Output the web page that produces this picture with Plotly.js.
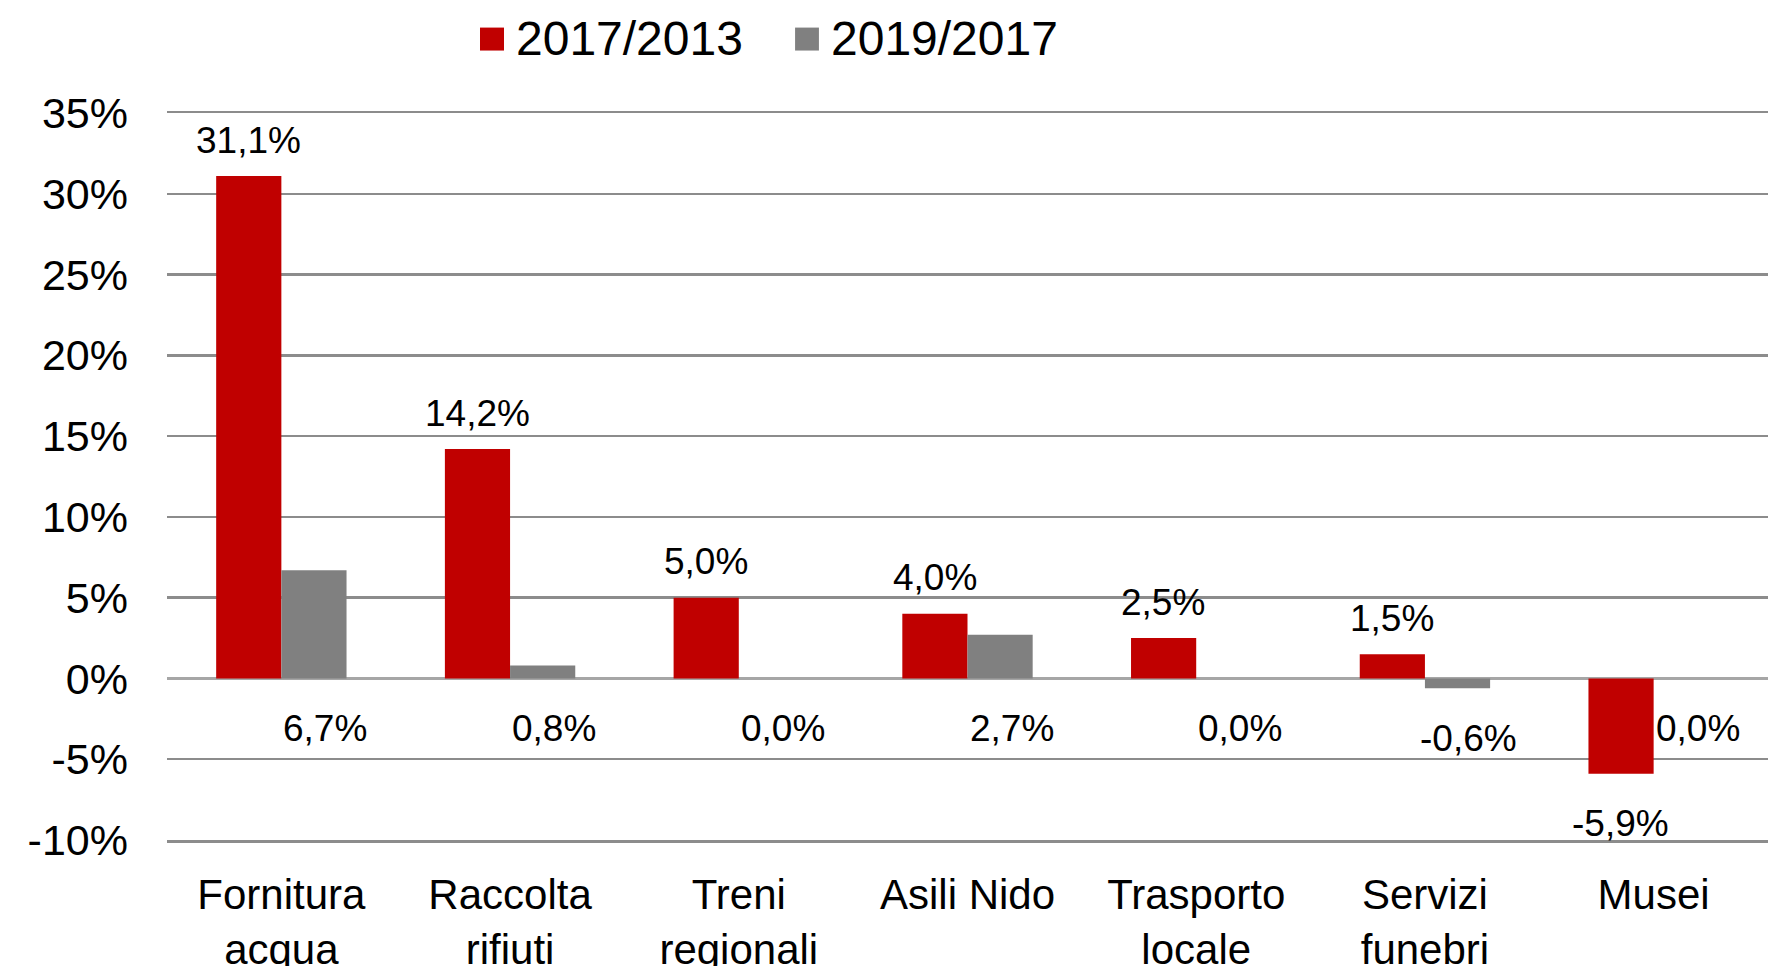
<!DOCTYPE html>
<html>
<head>
<meta charset="utf-8">
<script src="https://cdn.plot.ly/plotly-3.0.1.min.js"></script>
<style>html,body{margin:0;padding:0;background:#fff;}#chart{width:1774px;height:966px;}</style>
</head>
<body>
<div id="chart"></div>
<script>
const categories = ['Fornitura<br>acqua', 'Raccolta<br>rifiuti', 'Treni<br>regionali', 'Asili Nido', 'Trasporto<br>locale', 'Servizi<br>funebri', 'Musei'];
const series1Name = '2017/2013';
const series2Name = '2019/2017';
const series1 = [31.1, 14.2, 5.0, 4.0, 2.5, 1.5, -5.9];
const series2 = [6.7, 0.8, 0.0, 2.7, 0.0, -0.6, 0.0];
const yTickVals = [-10, -5, 0, 5, 10, 15, 20, 25, 30, 35];
const yTickText = ['-10%', '-5%', '0%', '5%', '10%', '15%', '20%', '25%', '30%', '35%'];

const RED = '#C00000';
const GRAY = '#808080';
const FONT = 'Liberation Sans, Arial, sans-serif';

function fmt(v) { return v.toFixed(1).replace('.', ',') + '%'; }

const traces = [
  { type: 'bar', name: series1Name, x: categories, y: series1, marker: { color: RED }, hoverinfo: 'skip' },
  { type: 'bar', name: series2Name, x: categories, y: series2, marker: { color: GRAY }, hoverinfo: 'skip' }
];

const annotations = [];
categories.forEach((c, i) => {
  const v1 = series1[i];
  annotations.push({
    x: c, xref: 'x', y: v1, yref: 'y',
    text: fmt(v1), showarrow: false,
    xanchor: 'center', yanchor: 'middle',
    xshift: -33, yshift: v1 >= 0 ? 36 : -50,
    font: { family: FONT, size: 37, color: '#000' }
  });
  const v2 = series2[i];
  annotations.push({
    x: c, xref: 'x', y: Math.min(v2, 0), yref: 'y',
    text: fmt(v2), showarrow: false,
    xanchor: 'center', yanchor: 'middle',
    xshift: 44, yshift: -50,
    font: { family: FONT, size: 37, color: '#000' }
  });
});

// custom legend
annotations.push({ x: 0.217, xref: 'paper', y: 1.1024, yref: 'paper', text: series1Name, showarrow: false, xanchor: 'left', yanchor: 'middle', font: { family: FONT, size: 48, color: '#000' } });
annotations.push({ x: 0.4137, xref: 'paper', y: 1.1024, yref: 'paper', text: series2Name, showarrow: false, xanchor: 'left', yanchor: 'middle', font: { family: FONT, size: 48, color: '#000' } });

const shapes = [
  { type: 'rect', xref: 'paper', yref: 'paper', x0: 0.1955, x1: 0.2105, y0: 1.0859, y1: 1.1175, fillcolor: RED, line: { width: 0 } },
  { type: 'rect', xref: 'paper', yref: 'paper', x0: 0.3923, x1: 0.4072, y0: 1.0859, y1: 1.1175, fillcolor: GRAY, line: { width: 0 } }
];

const layout = {
  width: 1774, height: 966,
  margin: { l: 167, r: 6, t: 113, b: 126, pad: 0 },
  paper_bgcolor: '#fff', plot_bgcolor: '#fff',
  barmode: 'group', bargap: 0.43, bargroupgap: 0,
  showlegend: false,
  font: { family: FONT, color: '#000' },
  xaxis: {
    type: 'category', showgrid: false, zeroline: false,
    showline: true, mirror: true, linecolor: '#8c8c8c', linewidth: 2.5,
    ticks: '',
    tickfont: { family: FONT, size: 42, color: '#000' },
    ticklabelstandoff: 16, fixedrange: true
  },
  yaxis: {
    range: [-10, 35], tickvals: yTickVals, ticktext: yTickText,
    showgrid: true, gridcolor: '#8c8c8c', gridwidth: 2.5,
    zeroline: true, zerolinecolor: '#a6a6a6', zerolinewidth: 2.5,
    showline: false, ticks: '',
    tickfont: { family: FONT, size: 43, color: '#000' },
    ticklabelstandoff: 38, fixedrange: true
  },
  annotations: annotations,
  shapes: shapes
};

Plotly.newPlot('chart', traces, layout, { displayModeBar: false, staticPlot: true });
</script>
</body>
</html>
